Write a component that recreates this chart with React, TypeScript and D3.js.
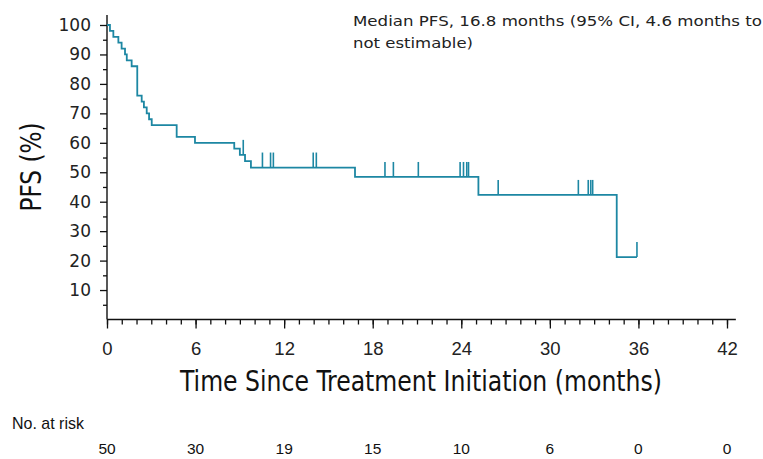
import React, { useEffect, useRef } from "react";
import * as d3 from "d3";

// Kaplan-Meier steps (months, PFS %)
const stepMonths = [0, 0.2, 0.43, 0.77, 0.99, 1.22, 1.34, 1.67, 2.05, 2.35, 2.5, 2.69, 2.85, 3.03, 4.72, 5.96, 8.62, 9.0, 9.35, 9.75, 16.8, 25.16, 34.53];
const stepPfs = [100, 98, 96, 94, 92, 90, 88, 86, 76, 74, 72, 70, 68, 66, 62, 60, 58, 55.9, 53.8, 51.6, 48.4, 42.3, 21.2];
const lastFollowUp = 35.9;

// censored observations (months)
const censorMonths = [9.23, 10.53, 11.08, 11.27, 13.97, 14.18, 18.83, 19.4, 21.09, 23.92, 24.15, 24.37, 24.49, 26.5, 31.93, 32.6, 32.77, 32.9, 35.9];

// number at risk table
const riskMonths = [0, 6, 12, 18, 24, 30, 36, 42];
const atRisk = [50, 30, 19, 15, 10, 6, 0, 0];

const xTicks = [0, 6, 12, 18, 24, 30, 36, 42];
const yTicks = [10, 20, 30, 40, 50, 60, 70, 80, 90, 100];

const W = 763, H = 459;
const LINE = "#1d87a3";
const NARROW = "'Liberation Sans Narrow', 'DejaVu Sans Condensed', 'Arial Narrow', sans-serif";
const SANS = "'Liberation Sans', Arial, sans-serif";

function pfsAt(t: number) {
  const i = d3.bisectRight(stepMonths, t) - 1;
  return stepPfs[Math.max(0, i)];
}

export default function App() {
  const ref = useRef<SVGSVGElement>(null);

  useEffect(() => {
    const svg = d3.select(ref.current);
    svg.selectAll("*").remove();

    var x = d3.scaleLinear().domain([0, 42]).range([107, 727]);
    var y = d3.scaleLinear().domain([0, 100]).range([319.5, 25]);

    const g = svg.append("g");

    // x axis: minor month ticks, then labelled major ticks
    g.append("g")
      .attr("transform", `translate(0, ${y(0)})`)
      .call(d3.axisBottom(x).tickValues(d3.range(0, 43, 1)).tickSize(5).tickFormat(() => ""))
      .call((a) => a.select(".domain").remove());
    const xa = g.append("g")
      .attr("transform", `translate(0, ${y(0)})`)
      .call(d3.axisBottom(x).tickValues(xTicks).tickSize(9).tickPadding(13).tickFormat(d3.format("d")));
    xa.select(".domain").remove();
    xa.selectAll("text").attr("font-family", SANS).attr("font-size", 18.5).attr("fill", "#222");

    // y axis
    g.append("g")
      .attr("transform", `translate(${x(0)}, 0)`)
      .call(d3.axisLeft(y).tickValues(d3.range(5, 100, 10)).tickSize(4).tickFormat(() => ""))
      .call((a) => a.select(".domain").remove());
    const ya = g.append("g")
      .attr("transform", `translate(${x(0)}, 0)`)
      .call(d3.axisLeft(y).tickValues(yTicks).tickSize(7).tickPadding(9).tickFormat(d3.format("d")));
    ya.select(".domain").remove();
    ya.selectAll("text").attr("font-family", "'DejaVu Sans', sans-serif").attr("font-size", 17).attr("fill", "#222");

    g.selectAll(".tick line").attr("stroke", "#111").attr("stroke-width", 1.3);

    // axis lines
    g.append("line")
      .attr("x1", x(0)).attr("x2", x(0))
      .attr("y1", y(0)).attr("y2", y(103.4))
      .attr("stroke", "#111").attr("stroke-width", 1.4);
    g.append("line")
      .attr("x1", x(0)).attr("x2", x(42.6))
      .attr("y1", y(0)).attr("y2", y(0))
      .attr("stroke", "#111").attr("stroke-width", 1.4);

    // KM curve
    const pts: [number, number][] = stepMonths.map((m, i) => [m, stepPfs[i]]);
    pts.push([lastFollowUp, stepPfs[stepPfs.length - 1]]);
    const line = d3.line<[number, number]>()
      .x((d) => x(d[0]))
      .y((d) => y(d[1]))
      .curve(d3.curveStepAfter);
    g.append("path")
      .datum(pts)
      .attr("d", line)
      .attr("fill", "none")
      .attr("stroke", LINE)
      .attr("stroke-width", 1.8);

    // censor marks
    g.selectAll(".censor")
      .data(censorMonths)
      .join("line")
      .attr("class", "censor")
      .attr("x1", (d) => x(d)).attr("x2", (d) => x(d))
      .attr("y1", (d) => y(pfsAt(d)))
      .attr("y2", (d) => y(pfsAt(d)) - 15)
      .attr("stroke", LINE)
      .attr("stroke-width", 1.6);

    // axis titles
    g.append("text")
      .attr("x", 180).attr("y", 391)
      .attr("font-family", NARROW).attr("font-size", 29)
      .attr("textLength", 482).attr("lengthAdjust", "spacingAndGlyphs")
      .attr("fill", "#111")
      .text("Time Since Treatment Initiation (months)");
    g.append("text")
      .attr("transform", "translate(41, 167) rotate(-90)")
      .attr("text-anchor", "middle")
      .attr("font-family", NARROW).attr("font-size", 28)
      .attr("textLength", 89).attr("lengthAdjust", "spacingAndGlyphs")
      .attr("fill", "#111")
      .text("PFS (%)");

    // annotation
    g.append("text")
      .attr("x", 353).attr("y", 26)
      .attr("font-family", "'DejaVu Sans', sans-serif").attr("font-size", 14.5)
      .attr("textLength", 409).attr("lengthAdjust", "spacingAndGlyphs")
      .attr("fill", "#222")
      .text("Median PFS, 16.8 months (95% CI, 4.6 months to");
    g.append("text")
      .attr("x", 353).attr("y", 48)
      .attr("font-family", "'DejaVu Sans', sans-serif").attr("font-size", 14.5)
      .attr("textLength", 120).attr("lengthAdjust", "spacingAndGlyphs")
      .attr("fill", "#222")
      .text("not estimable)");

    // number at risk
    g.append("text")
      .attr("x", 12).attr("y", 429)
      .attr("font-family", SANS).attr("font-size", 17)
      .attr("textLength", 72).attr("lengthAdjust", "spacingAndGlyphs")
      .attr("fill", "#111")
      .text("No. at risk");
    g.selectAll(".risk")
      .data(riskMonths)
      .join("text")
      .attr("class", "risk")
      .attr("x", (d) => x(d))
      .attr("y", 454)
      .attr("text-anchor", "middle")
      .attr("font-family", SANS).attr("font-size", 15.5)
      .attr("fill", "#111")
      .text((d, i) => atRisk[i]);
  }, []);

  return (
    <div style={{ position: "absolute", left: 0, top: 0 }}>
      <svg ref={ref} width={W} height={H} style={{ display: "block", background: "#fff" }} />
    </div>
  );
}
